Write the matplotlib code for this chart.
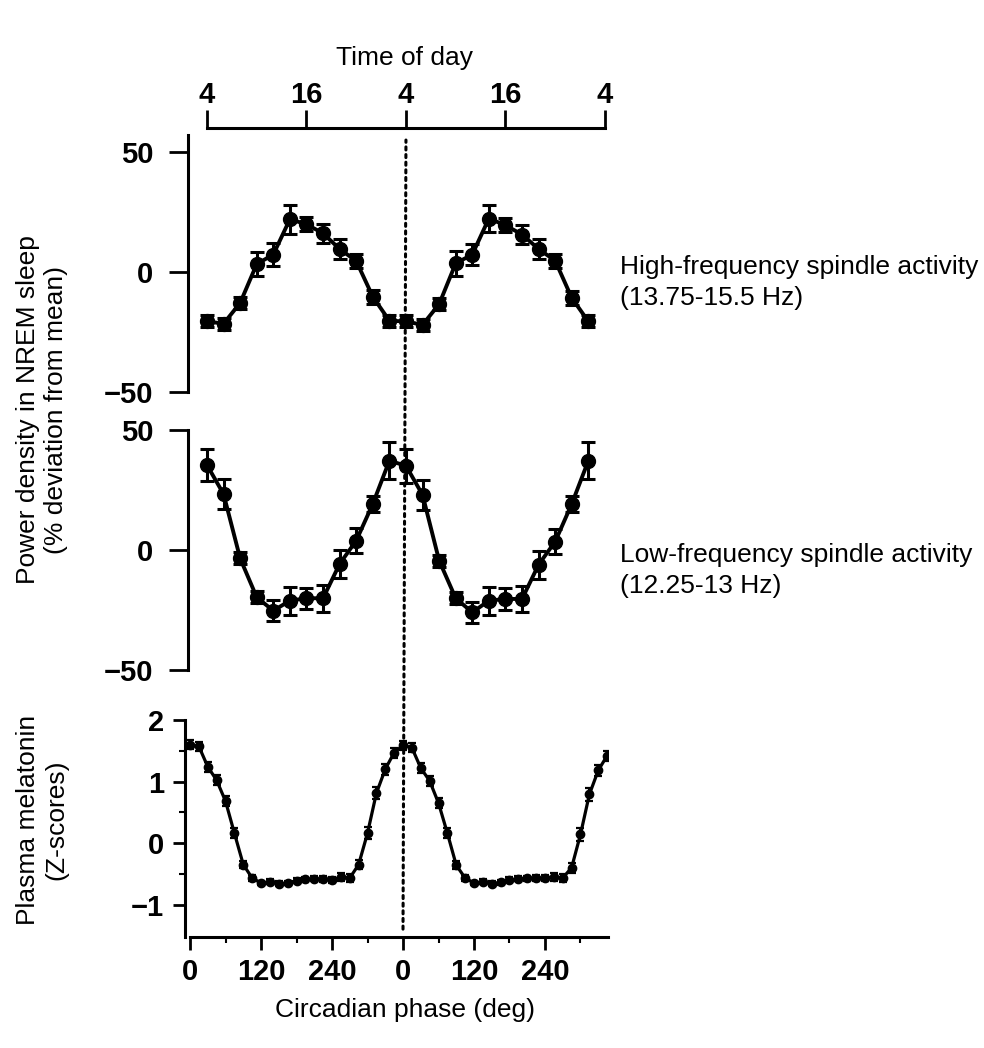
import matplotlib
matplotlib.use("Agg")
import matplotlib.pyplot as plt
from matplotlib.patches import ConnectionPatch
from matplotlib.ticker import FixedLocator

# ---------------- data ----------------
# clock time (h) of each spindle point, double plotted (4 h ... 50 h)
hours = [4, 6, 8, 10, 12, 14, 16, 18, 20, 22, 24, 26,
         28, 30, 32, 34, 36, 38, 40, 42, 44, 46, 48, 50]
high_freq = [-20.6, -21.5, -12.9, 3.3, 7.3, 22.0, 19.9, 16.1, 9.6, 4.6, -10.3, -20.3,
             -20.6, -22.0, -13.4, 3.6, 7.3, 22.3, 19.5, 15.6, 9.6, 4.7, -10.8, -20.6]
high_err = [2.5, 2.5, 2.5, 4.9, 4.9, 6.0, 3.0, 4.0, 4.0, 3.0, 3.0, 2.5,
            2.5, 2.5, 2.5, 5.2, 4.5, 5.8, 3.0, 4.0, 4.0, 3.0, 3.0, 2.5]
low_freq = [35.4, 23.3, -3.5, -19.7, -25.3, -21.1, -20.1, -20.1, -5.8, 3.9, 19.2, 37.2,
            35.1, 23.0, -4.4, -20.1, -26.0, -21.1, -20.4, -20.4, -6.1, 3.5, 19.2, 37.2]
low_err = [6.6, 6.2, 2.5, 2.5, 4.3, 5.8, 4.4, 5.6, 5.8, 5.2, 3.5, 7.8,
           7.0, 6.2, 2.5, 2.5, 4.3, 5.8, 4.4, 5.6, 5.8, 5.2, 3.5, 7.8]

# circadian phase (deg) of melatonin points, double plotted
phase = [0, 15, 30, 45, 60, 75, 90, 105, 120, 135, 150, 165,
         180, 195, 210, 225, 240, 255, 270, 285, 300, 315, 330, 345,
         360, 375, 390, 405, 420, 435, 450, 465, 480, 495, 510, 525,
         540, 555, 570, 585, 600, 615, 630, 645, 660, 675, 690, 705]
melatonin = [1.60, 1.57, 1.24, 1.02, 0.68, 0.16, -0.35, -0.57, -0.65, -0.63, -0.66, -0.65,
             -0.61, -0.59, -0.58, -0.59, -0.60, -0.55, -0.57, -0.35, 0.16, 0.81, 1.20, 1.47,
             1.59, 1.55, 1.22, 1.01, 0.65, 0.16, -0.36, -0.57, -0.65, -0.63, -0.66, -0.64,
             -0.60, -0.58, -0.57, -0.57, -0.57, -0.55, -0.57, -0.40, 0.14, 0.79, 1.18, 1.42]
mel_err = [0.07, 0.07, 0.08, 0.08, 0.08, 0.08, 0.06, 0.05, 0.04, 0.04, 0.04, 0.04,
           0.04, 0.04, 0.04, 0.05, 0.05, 0.06, 0.06, 0.08, 0.10, 0.10, 0.09, 0.08,
           0.07, 0.07, 0.08, 0.08, 0.08, 0.08, 0.06, 0.05, 0.04, 0.04, 0.04, 0.04,
           0.04, 0.04, 0.04, 0.05, 0.05, 0.06, 0.06, 0.08, 0.10, 0.10, 0.09, 0.08]

time_ticks = [4, 16, 28, 40, 52]
time_labels = ['4', '16', '4', '16', '4']
phase_ticks = [0, 120, 240, 360, 480, 600]
phase_labels = ['0', '120', '240', '0', '120', '240']
phase_minor = [60, 180, 300, 420, 540, 660]

# ---------------- figure ----------------
W, H = 984, 1048
fig = plt.figure(figsize=(W / 100, H / 100), dpi=100)
TXT = dict(family='Liberation Sans', fontsize=19)
TICKFONT = dict(family='Liberation Sans', fontsize=21, fontweight='bold')


def rect(x0, y0, x1, y1):
    return [x0 / W, 1 - y1 / H, (x1 - x0) / W, (y1 - y0) / H]


HX = (1.71, 52.37)
ax1 = fig.add_axes(rect(188, 135, 608, 392))
ax2 = fig.add_axes(rect(188, 430, 608, 670))
ax3 = fig.add_axes(rect(185, 720, 608, 937))

for ax in (ax1, ax2):
    for s in ('top', 'right', 'bottom'):
        ax.spines[s].set_visible(False)
    ax.spines['left'].set_linewidth(2.2)
    ax.set_xlim(*HX)
    ax.set_xticks([])
    ax.set_ylim(-50, 50)
    ax.set_yticks([50, 0, -50])
    ax.set_yticklabels(['50', '0', '\u221250'], **TICKFONT)
    ax.tick_params(axis='y', direction='out', length=14, width=2, pad=11)
ax1.set_ylim(-50, 57.1)

ekw = dict(color='black', lw=2.8, marker='o', ms=10, elinewidth=2.2, capsize=5, capthick=2.2)
ax1.errorbar(hours, high_freq, yerr=high_err, **ekw)
ax2.errorbar(hours, low_freq, yerr=low_err, **ekw)

# melatonin panel
for s in ('top', 'right'):
    ax3.spines[s].set_visible(False)
ax3.spines['left'].set_linewidth(2.2)
ax3.spines['bottom'].set_linewidth(2.2)
ax3.set_xlim(-8.5, 706.5)
ax3.set_ylim(-1.528, 2)
ax3.spines['bottom'].set_bounds(0, 706.5)
ax3.set_xticks(phase_ticks)
ax3.set_xticklabels(phase_labels, **TICKFONT)
ax3.xaxis.set_minor_locator(FixedLocator(phase_minor))
ax3.set_yticks([2, 1, 0, -1])
ax3.set_yticklabels(['2', '1', '0', '\u22121'], **TICKFONT)
ax3.yaxis.set_minor_locator(FixedLocator([1.5, 0.5, -0.5]))
ax3.tick_params(axis='both', which='major', direction='out', length=9, width=2, pad=6)
ax3.tick_params(axis='both', which='minor', direction='out', length=4, width=1.5)
ax3.errorbar(phase, melatonin, yerr=mel_err, color='black', lw=2.3, marker='o', ms=6,
             elinewidth=1.6, capsize=3, capthick=1.6)

# top time-of-day axis
axt = fig.add_axes([188 / W, 1 - 128 / H - 0.001, 420 / W, 0.001])
for s in ('bottom', 'left', 'right'):
    axt.spines[s].set_visible(False)
axt.spines['top'].set_linewidth(2.2)
axt.set_xlim(*HX)
axt.spines['top'].set_bounds(4, 52)
axt.set_yticks([])
axt.set_xticks(time_ticks)
axt.set_xticklabels(time_labels, **TICKFONT)
axt.tick_params(axis='x', top=True, bottom=False, labeltop=True, labelbottom=False,
                direction='out', length=13, width=2, pad=1)

# dotted reference line at phase 0 / 4 h
con = ConnectionPatch(xyA=(360, -1.4), coordsA=ax3.transData,
                      xyB=(28, 55), coordsB=ax1.transData,
                      color='black', lw=2.2, linestyle=(0, (1, 1.5)))
fig.add_artist(con)

# texts
def ftext(x, y, s, **kw):
    fig.text(x / W, 1 - y / H, s, **TXT, **kw)

ftext(405, 58, 'Time of day', ha='center', va='center')
ftext(405, 1010, 'Circadian phase (deg)', ha='center', va='center')
ftext(620, 267, 'High-frequency spindle activity', ha='left', va='center')
ftext(620, 298, '(13.75-15.5 Hz)', ha='left', va='center')
ftext(620, 555, 'Low-frequency spindle activity', ha='left', va='center')
ftext(620, 586, '(12.25-13 Hz)', ha='left', va='center')
ftext(28, 410, 'Power density in NREM sleep', ha='center', va='center', rotation=90)
ftext(56, 410, '(% deviation from mean)', ha='center', va='center', rotation=90)
ftext(28, 820, 'Plasma melatonin', ha='center', va='center', rotation=90)
ftext(56, 820, '(Z-scores)', ha='center', va='center', rotation=90)

fig.savefig('out.png', dpi=100)
